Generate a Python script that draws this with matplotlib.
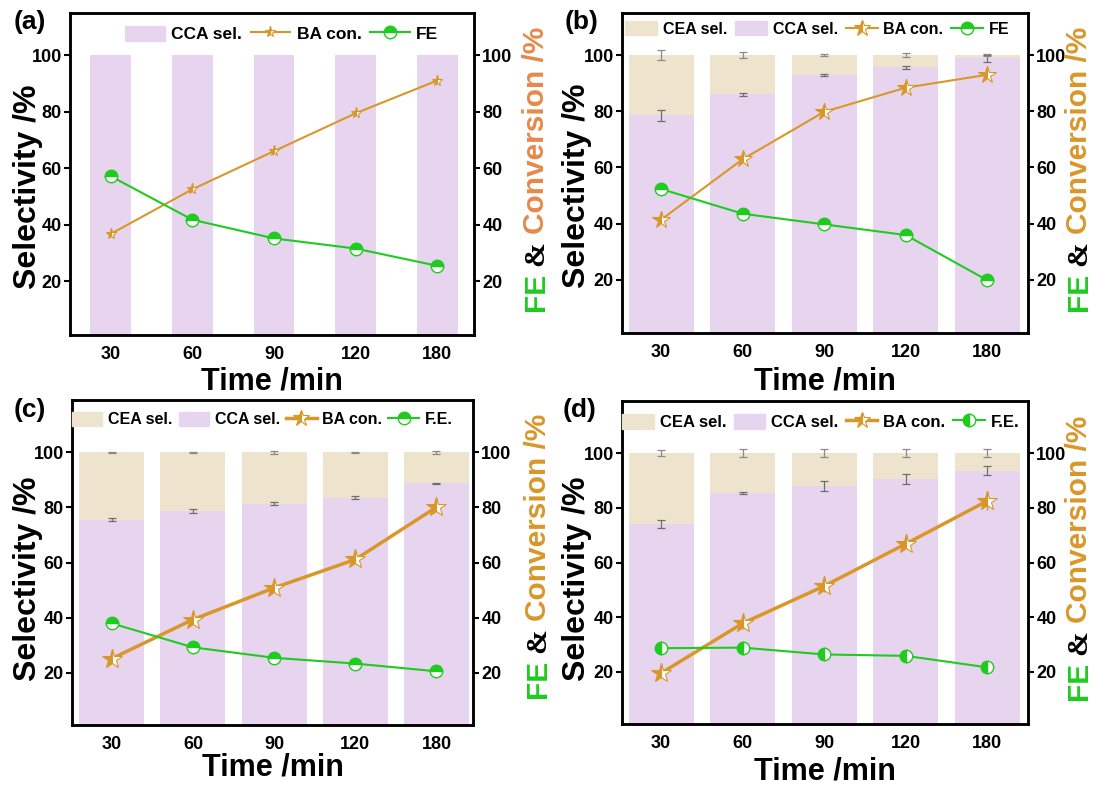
import numpy as np
import matplotlib.pyplot as plt
from matplotlib.patches import Patch
from matplotlib.lines import Line2D

plt.rcParams['font.family'] = ['Liberation Sans', 'DejaVu Sans']
plt.rcParams['font.weight'] = 'bold'

times = ['30', '60', '90', '120', '180']

# panel (a)
cca_a = [100, 100, 100, 100, 100]
ba_a = [36.8, 52.6, 66.1, 79.5, 91.1]
fe_a = [57.2, 41.8, 35.2, 31.6, 25.5]

# panel (b)
cca_b = [78.5, 86.0, 93.0, 95.6, 98.9]
cca_b_err = [2.0, 0.4, 0.4, 0.5, 1.2]
cea_b_err = [1.7, 1.0, 0.3, 0.7, 0.4]
ba_b = [41.4, 62.9, 79.8, 88.4, 93.0]
fe_b = [52.3, 43.5, 39.7, 35.9, 19.8]

# panel (c)
cca_c = [75.6, 78.6, 81.4, 83.5, 88.8]
cca_c_err = [0.6, 0.8, 0.4, 0.5, 0.2]
cea_c_err = [0.1, 0.1, 0.6, 0.3, 0.6]
ba_c = [25.1, 39.3, 50.8, 61.1, 80.1]
fe_c = [37.9, 29.2, 25.4, 23.3, 20.5]

# panel (d)
cca_d = [74.1, 85.5, 88.0, 90.4, 93.6]
cca_d_err = [1.4, 0.3, 1.7, 1.9, 1.5]
cea_d_err = [1.1, 1.6, 1.3, 1.3, 1.3]
ba_d = [19.6, 37.8, 51.4, 66.8, 82.5]
ba_d_err = [1.0, 2.0, 2.0, 1.2, 3.5]
fe_d = [28.7, 28.9, 26.4, 25.9, 21.7]

CCA_COLOR = '#E7D5F0'
CEA_COLOR = '#EEE4CD'
BA_COLOR = '#D9972A'
FE_COLOR = '#1FCB1F'

W, H = 1094, 787
fig = plt.figure(figsize=(W / 100, H / 100), dpi=100)


def px_axes(left, top, right, bottom):
    return fig.add_axes([left / W, 1 - bottom / H, (right - left) / W, (bottom - top) / H])


def stacked_label(x, y, parts, size, gap=7):
    # multi-coloured rotated label, built bottom to top
    renderer = fig.canvas.get_renderer()
    for text, color, family in parts:
        t = fig.text(x / W, 1 - y / H, text, rotation=90, ha='center', va='bottom',
                     fontsize=size, fontweight='bold', color=color, family=family)
        bb = t.get_window_extent(renderer)
        y = y - bb.height - gap


def panel(rect, letter, letter_xy, cca, ba, fe, ylim, xlim, bar_w,
          cea=False, cca_err=None, cea_err=None, ba_err=None,
          star_size=8, leg_star=8, line_w=1.5, fe_fill='top', fe_label='FE',
          leg_fs=12.5, leg_hl=2.1, leg_cs=0.45,
          leg_xy=(0.0, 0.94), conv_color=BA_COLOR, xlab_y=None, ylab_x=None, ylab_dy=12,
          rlab=None):
    ax = px_axes(*rect)
    x = np.arange(len(times))
    ax.bar(x, cca, width=bar_w, color=CCA_COLOR, zorder=1)
    if cea:
        top = [100 - v for v in cca]
        ax.bar(x, top, bottom=cca, width=bar_w, color=CEA_COLOR, zorder=1)
        ax.errorbar(x, cca, yerr=cca_err, fmt='none', ecolor='#6E6E6E', elinewidth=0.9,
                    capsize=3, capthick=0.9, zorder=2)
        ax.errorbar(x, [100] * len(x), yerr=cea_err, fmt='none', ecolor='#8A8A8A', elinewidth=0.9,
                    capsize=3, capthick=0.9, zorder=2)
    ax.set_xlim(*xlim)
    ax.set_ylim(*ylim)
    ax.set_xticks(x)
    ax.set_xticklabels(times)
    ax.set_yticks([20, 40, 60, 80, 100])
    ax.tick_params(axis='x', length=0, labelsize=13, pad=8)
    ax.tick_params(axis='y', length=4, width=1.5, labelsize=13, pad=2)
    for s in ax.spines.values():
        s.set_linewidth(1.8)

    ax2 = ax.twinx()
    ax2.set_ylim(*ylim)
    ax2.set_yticks([20, 40, 60, 80, 100])
    ax2.tick_params(axis='y', length=4, width=1.5, labelsize=13, pad=2)
    for s in ax2.spines.values():
        s.set_linewidth(1.8)
    ax2.errorbar(x, ba, yerr=ba_err, color=BA_COLOR, lw=line_w, marker='*', ms=star_size,
                 mfc=BA_COLOR, mfcalt='white', fillstyle='left', mec=BA_COLOR, mew=0.8,
                 ecolor=BA_COLOR, elinewidth=1, capsize=0, zorder=3)
    ax2.plot(x, fe, color=FE_COLOR, lw=1.5, marker='o', ms=9, mfc=FE_COLOR, mfcalt='white',
             fillstyle=fe_fill, mec=FE_COLOR, mew=1, zorder=4)

    handles, labels = [], []
    if cea:
        handles.append(Patch(color=CEA_COLOR))
        labels.append('CEA sel.')
    handles.append(Patch(color=CCA_COLOR))
    labels.append('CCA sel.')
    handles.append(Line2D([], [], color=BA_COLOR, lw=line_w, marker='*', ms=leg_star,
                          mfc=BA_COLOR, mfcalt='white', fillstyle='left', mec=BA_COLOR, mew=0.8))
    labels.append('BA con.')
    handles.append(Line2D([], [], color=FE_COLOR, lw=1.5, marker='o', ms=9, mfc=FE_COLOR,
                          mfcalt='white', fillstyle=fe_fill, mec=FE_COLOR, mew=1))
    labels.append(fe_label)
    ax2.legend(handles, labels, loc='center left', bbox_to_anchor=leg_xy, ncol=4, frameon=False,
               fontsize=leg_fs, handlelength=leg_hl, handleheight=1.0, handletextpad=0.35,
               columnspacing=leg_cs, borderpad=0, borderaxespad=0)

    left, top, right, bottom = rect
    fig.text(letter_xy[0] / W, 1 - letter_xy[1] / H, letter, fontsize=19, fontweight='bold',
             ha='left', va='center')
    fig.text((left + right) / 2 / W, 1 - xlab_y / H, 'Time /min', fontsize=22,
             fontweight='bold', ha='center', va='center')
    fig.text(ylab_x / W, 1 - ((top + bottom) / 2 + ylab_dy) / H, 'Selectivity /%', fontsize=23,
             fontweight='bold', rotation=90, ha='center', va='center')
    stacked_label(rlab[0], rlab[1],
                  [('FE', FE_COLOR, ['Liberation Sans']),
                   ('&', 'black', ['Liberation Serif']),
                   ('Conversion /%', conv_color, ['Liberation Sans'])], 21.5)
    return ax


panel((70, 13, 474, 335), '(a)', (14, 22), cca_a, ba_a, fe_a, (1, 115), (-0.5, 4.45), 0.5,
      star_size=8, leg_star=8, line_w=1.5, leg_fs=12.5, leg_hl=2.3, leg_cs=0.5,
      leg_xy=(0.136, 0.935), conv_color='#E6894A',
      xlab_y=381, ylab_x=28, ylab_dy=13, rlab=(536, 311))
panel((622, 13, 1028, 333), '(b)', (565, 22), cca_b, ba_b, fe_b, (1, 115), (-0.48, 4.5), 0.8,
      cea=True, cca_err=cca_b_err, cea_err=cea_b_err, star_size=13, leg_star=12, line_w=1.5,
      leg_fs=11.5, leg_hl=2.0, leg_cs=0.5, leg_xy=(0.008, 0.95), conv_color='#D9972A',
      xlab_y=382, ylab_x=577, ylab_dy=13, rlab=(1079, 311))
panel((72, 400, 473, 725), '(c)', (14, 410), cca_c, ba_c, fe_c, (1, 119), (-0.49, 4.45), 0.8,
      cea=True, cca_err=cca_c_err, cea_err=cea_c_err, star_size=15, leg_star=12, line_w=2.5,
      fe_label='F.E.', leg_fs=11.5, leg_hl=1.9, leg_cs=0.4, leg_xy=(0.0, 0.94),
      conv_color='#D9972A', xlab_y=768, ylab_x=28, ylab_dy=16, rlab=(538, 698))
panel((622, 401, 1028, 724), '(d)', (563, 410), cca_d, ba_d, fe_d, (1, 119), (-0.48, 4.5), 0.8,
      cea=True, cca_err=cca_d_err, cea_err=cea_d_err, ba_err=ba_d_err, star_size=15,
      leg_star=12, line_w=2.5, fe_fill='left', fe_label='F.E.', leg_fs=12, leg_hl=1.9,
      leg_cs=0.45, leg_xy=(0.0, 0.935), conv_color='#D9972A', xlab_y=772, ylab_x=577,
      ylab_dy=16, rlab=(1079, 700))

fig.savefig('out.png', dpi=100)
